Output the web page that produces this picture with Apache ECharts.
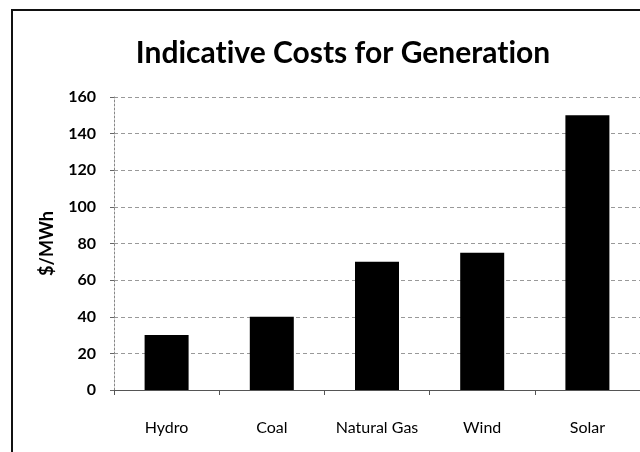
<!DOCTYPE html>
<html>
<head>
<meta charset="utf-8">
<script src="https://cdn.jsdelivr.net/npm/echarts@6/dist/echarts.min.js"></script>
<style>
  html, body { margin: 0; padding: 0; background: #fff; }
  #chart { width: 640px; height: 452px; }
</style>
</head>
<body>
<div id="chart"></div>
<script>
// 发电成本数据
const categories = ['Hydro', 'Coal', 'Natural Gas', 'Wind', 'Solar']
const costValues = [30, 40, 70, 75, 150]
const yTicks = [0, 20, 40, 60, 80, 100, 120, 140, 160]

const chart = echarts.init(document.getElementById('chart'))
const font = 'Lato, "Open Sans", sans-serif'

const option = {
    backgroundColor: '#fff',
    animation: false,
    title: {
        // \u200C 防止 Lato 的 "ti" 连字
        text: 'Indicat\u200Cive Costs for Generat\u200Cion',
        left: 338,
        textAlign: 'center',
        top: 33,
        textStyle: {
            fontFamily: font,
            fontWeight: 'bold',
            fontSize: 30,
            color: '#000'
        }
    },
    // 外框
    graphic: [{
        type: 'polyline',
        shape: { points: [[12, 460], [12, 10], [650, 10]] },
        style: { stroke: '#111', lineWidth: 2, fill: null }
    }],
    grid: {
        left: 114,
        top: 97,
        width: 532,
        height: 293
    },
    xAxis: {
        type: 'category',
        data: categories,
        axisLine: { lineStyle: { color: '#555', width: 1 } },
        axisTick: { show: true, interval: 0, length: 5, lineStyle: { color: '#555' } },
        axisLabel: {
            interval: 0,
            margin: 30,
            fontFamily: font,
            fontSize: 16,
            color: '#000'
        }
    },
    yAxis: {
        type: 'value',
        min: yTicks[0],
        max: yTicks[yTicks.length - 1],
        interval: yTicks[1] - yTicks[0],
        name: '$/MWh',
        nameLocation: 'middle',
        nameGap: 58,
        nameTextStyle: {
            fontFamily: font,
            fontWeight: 'bold',
            fontSize: 18,
            color: '#000'
        },
        axisLine: { show: true, lineStyle: { color: '#888', type: [2, 2] } },
        axisTick: { show: true, length: 4, lineStyle: { color: '#666' } },
        axisLabel: {
            margin: 18,
            fontFamily: font,
            fontSize: 16,
            fontWeight: 'bold',
            color: '#000'
        },
        splitLine: { lineStyle: { color: '#999', type: [4, 3], width: 1 } }
    },
    series: [{
        type: 'bar',
        data: costValues,
        barWidth: 44,
        itemStyle: { color: '#000' }
    }]
}
chart.setOption(option)
</script>
</body>
</html>
